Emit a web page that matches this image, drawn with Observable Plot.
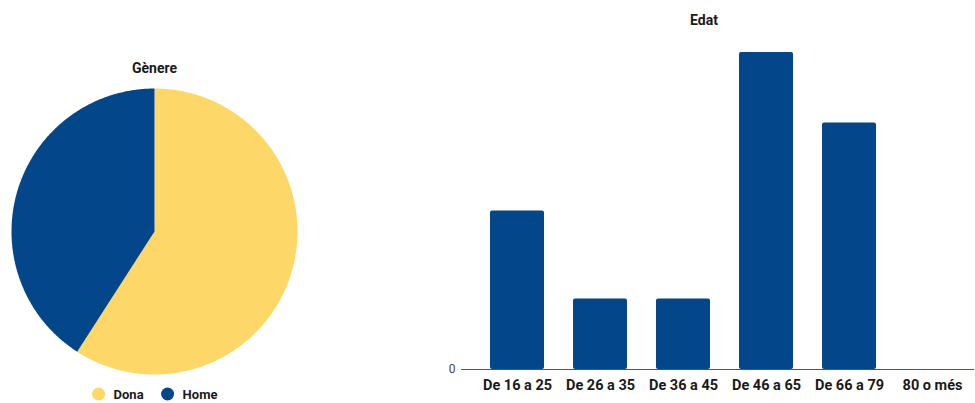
<!DOCTYPE html>
<html><head><meta charset="utf-8">
<script src="https://cdn.jsdelivr.net/npm/d3@7"></script>
<script src="https://cdn.jsdelivr.net/npm/@observablehq/plot@0.6"></script>
<style>
html,body{margin:0;padding:0;background:#fff;}
#wrap{position:relative;width:975px;height:403px;overflow:hidden;font-family:Roboto,sans-serif;}
.title{position:absolute;font-weight:bold;font-size:14px;color:#1a1a1a;transform:translate(-50%,-50%);white-space:nowrap;line-height:1;}
#pie{position:absolute;left:0;top:0;}
#bar{position:absolute;left:420px;top:0;}
#legend{position:absolute;top:394px;left:154.5px;transform:translate(-50%,-50%);display:flex;align-items:center;font-size:13px;font-weight:bold;color:#1a1a1a;white-space:nowrap;line-height:1;}
#legend .item{display:flex;align-items:center;}
#legend .item + .item{margin-left:17px;}
#legend .sw{width:13px;height:13px;border-radius:50%;margin-right:9px;}
</style>
</head><body>
<div id="wrap">
  <div id="pie"></div>
  <div id="bar"></div>
  <div class="title" style="left:154.5px;top:68px">Gènere</div>
  <div class="title" style="left:704px;top:20px">Edat</div>
  <div id="legend"></div>
</div>
<script>
// Gènere (pie)
const genderLabels = ["Dona", "Home"];
const genderValues = [13, 9];
const genderColors = ["#fdd868", "#03478a"];

// Edat (bars)
const ageLabels = ["De 16 a 25", "De 26 a 35", "De 36 a 45", "De 46 a 65", "De 66 a 79", "80 o més"];
const ageValues = [9, 4, 4, 18, 14, 0];
const barColor = "#03478a";

// ---- pie geometry built from the values (angles clockwise from 12 o'clock)
const total = d3.sum(genderValues);
const slicePts = [];
let acc = 0;
genderLabels.forEach((g, i) => {
  const a0 = acc / total * 2 * Math.PI;
  acc += genderValues[i];
  const a1 = acc / total * 2 * Math.PI;
  const n = Math.max(2, Math.ceil((a1 - a0) / (Math.PI / 360)));
  slicePts.push({g, x: 0, y: 0});
  for (let k = 0; k <= n; k++) {
    const a = a0 + (a1 - a0) * k / n;
    slicePts.push({g, x: Math.sin(a), y: Math.cos(a)});
  }
  slicePts.push({g, x: 0, y: 0});
});

const pie = Plot.plot({
  width: 320, height: 403,
  marginLeft: 11, marginRight: 23, marginTop: 88, marginBottom: 29,
  x: {domain: [-1, 1], axis: null},
  y: {domain: [-1, 1], axis: null},
  color: {domain: genderLabels, range: genderColors},
  marks: [
    Plot.line(slicePts, {x: "x", y: "y", z: "g", fill: "g", stroke: "none", curve: "linear"})
  ]
});
document.getElementById("pie").appendChild(pie);

// legend
const leg = document.getElementById("legend");
genderLabels.forEach((g, i) => {
  const it = document.createElement("div");
  it.className = "item";
  it.innerHTML = `<span class="sw" style="background:${genderColors[i]}"></span><span>${g}</span>`;
  leg.appendChild(it);
});

// ---- bars
const ageData = ageLabels.map((c, i) => ({c, v: ageValues[i]}));
const bar = Plot.plot({
  width: 555, height: 403,
  marginLeft: 56, marginRight: 1, marginTop: 52, marginBottom: 34,
  style: {fontFamily: "Roboto, sans-serif", background: "transparent"},
  x: {domain: ageLabels, paddingInner: 0.347, paddingOuter: 0.17},
  y: {domain: [0, 18]},
  marks: [
    Plot.barY(ageData, {x: "c", y: "v", fill: barColor, rx: 2}),
    Plot.ruleY([0], {stroke: "#555", strokeWidth: 1, insetLeft: -15}),
    Plot.axisX({tickSize: 0, tickPadding: 10, fontSize: 14.5, fontWeight: "bold", fill: "#1a1a1a", label: null}),
    Plot.axisY([0], {tickSize: 0, tickPadding: 21, fontSize: 12, fill: "#444", label: null})
  ]
});
document.getElementById("bar").appendChild(bar);
</script>
</body></html>
